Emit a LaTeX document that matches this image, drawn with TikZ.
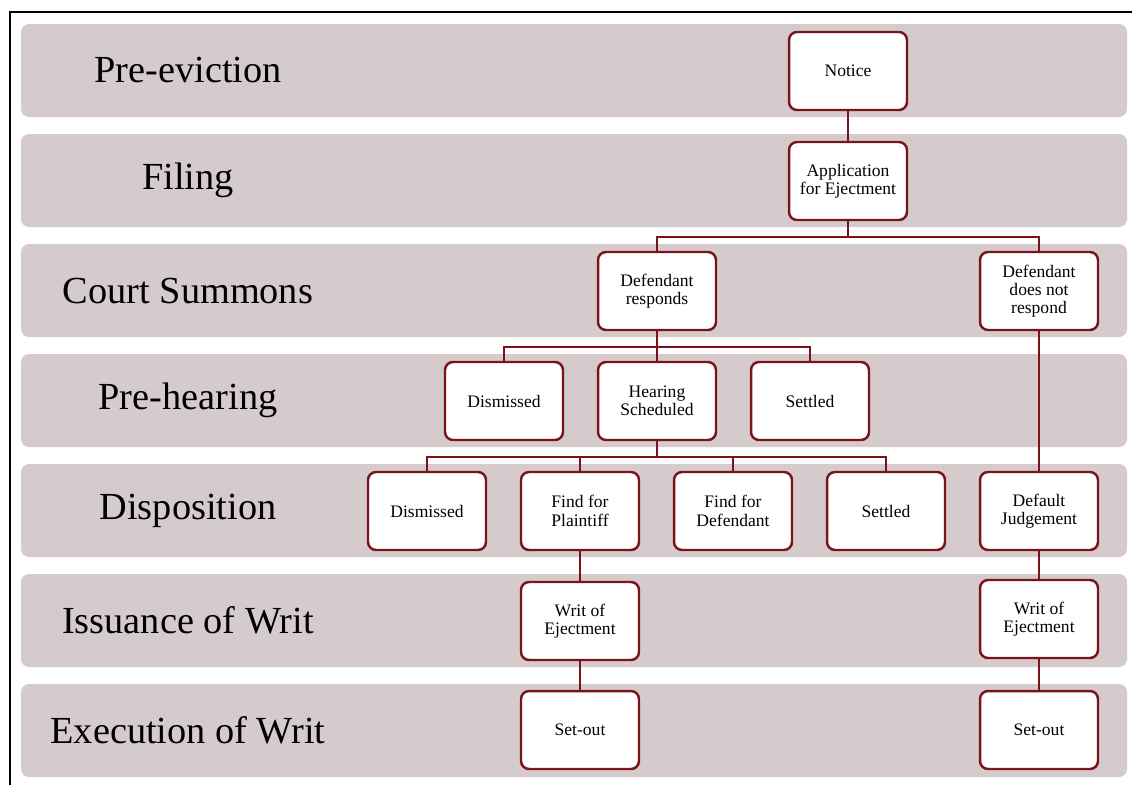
\documentclass[tikz,border=0pt]{standalone}
\usepackage{fontspec}
\setmainfont{Liberation Serif}
\usetikzlibrary{positioning}
\definecolor{bandgray}{RGB}{213,203,205}
\definecolor{boxred}{RGB}{122,20,26}

\begin{document}
\begin{tikzpicture}[x=0.02cm, y=-0.02cm,
  stage/.style={font=\fontsize{21.8}{26}\selectfont},
  event/.style={draw=boxred, line width=1.4pt, fill=white, rounded corners=0.16cm,
    minimum width=2.36cm, minimum height=1.56cm, align=center, inner sep=2pt,
    font=\fontsize{10}{10.4}\selectfont},
  link/.style={draw=boxred, line width=1.4pt}]
		%%%%% FRAME %%%%%
		\useasboundingbox (0,0) rectangle (1132,785);
		\draw[line width=0.8pt] (10,785) -- (10,12) -- (1132,12);
		
		%%%%% STAGES %%%%%
		\foreach \i/\t in {0/Pre-eviction,1/Filing,2/Court Summons,3/Pre-hearing,
		                   4/Disposition,5/Issuance of Writ,6/Execution of Writ}{
			\fill[bandgray, rounded corners=0.16cm] (21,24+110*\i) rectangle (1127,117+110*\i);
			\node[stage] (stage\i) at (188,70.5+110*\i) {\t};
		}
		
		%%%%% EVENTS %%%%%
		\node[event] (notice) at (848,71) {Notice};
		\node[event] (apply) at (848,181) {Application\\for Ejectment};
		
		\node[event] (respond) at (657,291) {Defendant\\responds};
		\node[event] (noresp) at (1039,291) {Defendant\\does not\\respond};
		
		\node[event] (dismA) at (504,401) {Dismissed};
		\node[event] (hearing) at (657,401) {Hearing\\Scheduled};
		\node[event] (settleA) at (810,401) {Settled};
		
		\node[event] (dismB) at (427,511) {Dismissed};
		\node[event] (plaintiff) at (580,511) {Find for\\Plaintiff};
		\node[event] (defendant) at (733,511) {Find for\\Defendant};
		\node[event] (settleB) at (886,511) {Settled};
		\node[event] (default) at (1039,511) {Default\\Judgement};
		
		\node[event] (writA) at (580,621) {Writ of\\Ejectment};
		\node[event] (writB) at (1039,619) {Writ of\\Ejectment};
		
		\node[event] (setA) at (580,730) {Set-out};
		\node[event] (setB) at (1039,730) {Set-out};
		
		%%%%% LINKS %%%%%
		\draw[link] (notice) -- (apply);
		\draw[link] (apply.south) -- ++(0,16) -| (respond.north);
		\draw[link] (apply.south) -- ++(0,16) -| (noresp.north);
		\foreach \n in {dismA,hearing,settleA}
			\draw[link] (respond.south) -- ++(0,16) -| (\n.north);
		\foreach \n in {dismB,plaintiff,defendant,settleB}
			\draw[link] (hearing.south) -- ++(0,16) -| (\n.north);
		\draw[link] (noresp) -- (default);
		\draw[link] (default) -- (writB);
		\draw[link] (writB) -- (setB);
		\draw[link] (plaintiff) -- (writA);
		\draw[link] (writA) -- (setA);
\end{tikzpicture}
\end{document}
